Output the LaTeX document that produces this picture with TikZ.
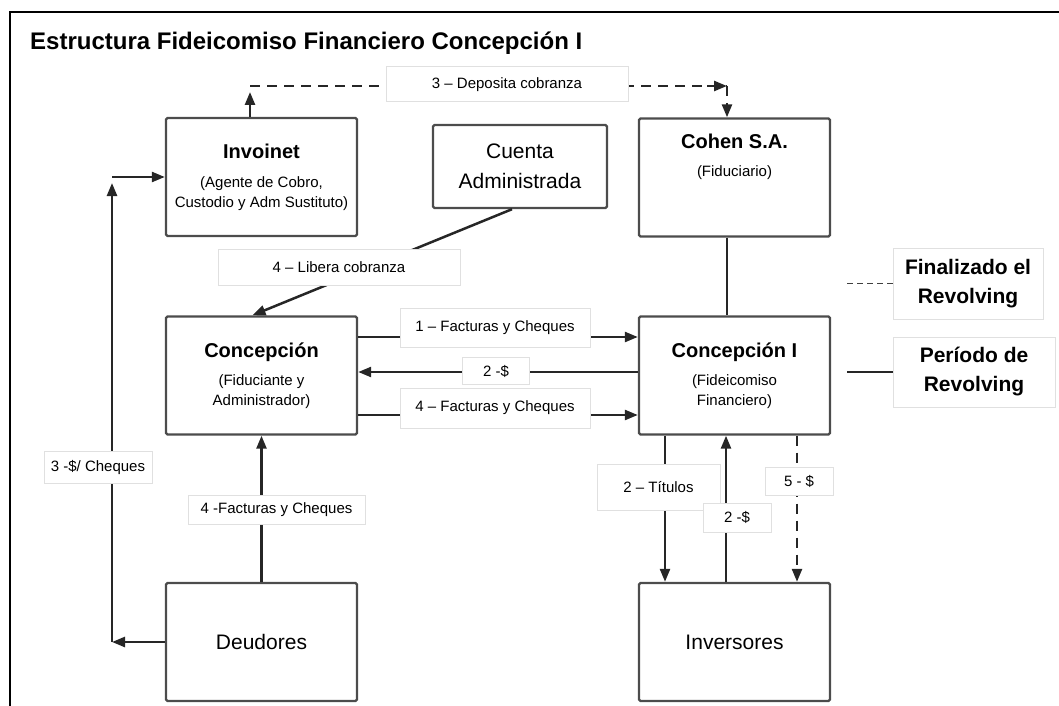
\documentclass[tikz,border=0pt]{standalone}
\usepackage{fontspec}
\setmainfont{Liberation Sans}
\usetikzlibrary{arrows.meta,positioning}
\newcommand{\boxhead}[1]{{\fontsize{20}{20}\selectfont\bfseries #1}}
\begin{document}
\begin{tikzpicture}[x=1pt,y=-1pt,
		font=\fontsize{15}{20}\selectfont,
		box/.style = {draw=black!70, line width=2.4pt, rounded corners=1.5pt,
			minimum width=191pt, minimum height=118pt, align=center},
		tag/.style = {draw=black!12, fill=white, line width=1pt, inner sep=0pt},
		note/.style = {tag, align=center, font=\bfseries\fontsize{21}{29}\selectfont},
		flow/.style = {line width=2.5pt, draw=black!85, -{Triangle[length=13pt,width=10pt]}},
		dashflow/.style = {flow, dash pattern=on 10pt off 7pt}]
	\useasboundingbox (0,0) rectangle (1059,706);
	\draw[line width=2pt] (10,706) -- (10,12) -- (1060,12);
	\node[anchor=base west, inner sep=0pt, font=\bfseries\fontsize{24}{24}\selectfont] (title) at (30,50)
		{Estructura Fideicomiso Financiero Concepción I};
	
	\node[box] (invoinet) at (261.5,177) {\boxhead{Invoinet}\\[9pt](Agente de Cobro,\\Custodio y Adm Sustituto)};
	\node[box, minimum width=174pt, minimum height=83pt, font=\fontsize{21}{30}\selectfont] (cuenta) at (520,166.5)
		{Cuenta\\Administrada};
	\node[box] (cohen) at (734.5,177.5) {};
	\node[below=17pt of cohen.north, align=center, inner sep=0pt] (cohentxt) {\boxhead{Cohen S.A.}\\[8pt](Fiduciario)};
	\node[box] (conc) at (261.5,375.5) {\boxhead{Concepción}\\[8pt](Fiduciante y\\Administrador)};
	\node[box] (conci) at (734.5,375.5) {\boxhead{Concepción I}\\[8pt](Fideicomiso\\Financiero)};
	\node[box, font=\fontsize{21}{24}\selectfont] (deudores) at (261.5,642) {Deudores};
	\node[box, font=\fontsize{21}{24}\selectfont] (inversores) at (734.5,642) {Inversores};
	
	\node[note, minimum width=150pt, minimum height=71pt] (fin) at (968,283.5) {Finalizado el\\Revolving};
	\node[note, minimum width=162pt, minimum height=70pt] (periodo) at (974,372) {Período de\\Revolving};
	\coordinate (finend) at (847,283.5);
	\coordinate (perend) at (847,372);
	\draw[line width=1.6pt, draw=black!75, dash pattern=on 6pt off 4pt] (fin.west) -- (finend);
	\draw[line width=2pt, draw=black!85] (periodo.west) -- (perend);
	
	% 3 - deposita cobranza
	\coordinate (topl) at (250,86);
	\coordinate (topr) at (727,86);
	\draw[flow] (invoinet.north -| topl) -- ([yshift=-6pt]topl);
	\draw[line width=2.5pt, draw=black!85, dash pattern=on 10pt off 7pt] (topl) -- (topr);
	\draw[dashflow] ([xshift=-20pt]topr) -- (topr);
	\draw[dashflow] (topr) -- (cohen.north -| topr);
	\node[tag, minimum width=242pt, minimum height=35pt] (deposita) at (507,84.5) {3 – Deposita cobranza};
	
	% 4 - libera cobranza
	\draw[flow] ([xshift=-8pt]cuenta.south) -- ([xshift=-9pt]conc.north);
	\node[tag, minimum width=242pt, minimum height=36pt] (libera) at (339,267) {4 – Libera cobranza};
	
	\draw[flow] ([yshift=38.5pt]conc.east) -- ([yshift=38.5pt]conci.west);
	\draw[flow] ([yshift=3.5pt]conci.west) -- ([yshift=3.5pt]conc.east);
	\draw[flow] ([yshift=-39.5pt]conc.east) -- ([yshift=-39.5pt]conci.west);
	\node[tag, minimum width=190pt, minimum height=39pt] (fact1) at (495,327.5) {1 – Facturas y Cheques};
	\node[tag, minimum width=67pt, minimum height=27pt] (pesos1) at (496,371) {2 -\$};
	\node[tag, minimum width=190pt, minimum height=40pt] (fact4) at (495,408) {4 – Facturas y Cheques};
	
	\draw[line width=2.5pt, draw=black!85] ([xshift=-7.5pt]cohen.south) -- ([xshift=-7.5pt]conci.north);
	
	\draw[flow] ([xshift=-69.5pt]conci.south) -- ([xshift=-69.5pt]inversores.north);
	\draw[flow] ([xshift=-8.5pt]inversores.north) -- ([xshift=-8.5pt]conci.south);
	\draw[dashflow] ([xshift=62.5pt]conci.south) -- ([xshift=62.5pt]inversores.north);
	\node[tag, minimum width=123pt, minimum height=46pt] (titulos) at (658.5,487) {2 – Títulos};
	\node[tag, minimum width=68pt, minimum height=29pt] (pesos2) at (737,517.5) {2 -\$};
	\node[tag, minimum width=68pt, minimum height=28pt] (pesos5) at (799,481) {5 - \$};
	
	% deudores
	\draw[flow] (deudores.north) -- (conc.south);
	\node[tag, minimum width=177pt, minimum height=29pt] (fact4b) at (276.5,509.5) {4 -Facturas y Cheques};
	\coordinate (loopb) at (112,642);
	\coordinate (loopt) at (112,177);
	\draw[flow] (deudores.west) -- (loopb);
	\draw[flow] (loopb) -- ([yshift=-6pt]loopt);
	\draw[flow] (loopt) -- (invoinet.west);
	\node[tag, minimum width=108pt, minimum height=32pt] (cheques) at (98,467) {3 -\$/ Cheques};
\end{tikzpicture}
\end{document}
